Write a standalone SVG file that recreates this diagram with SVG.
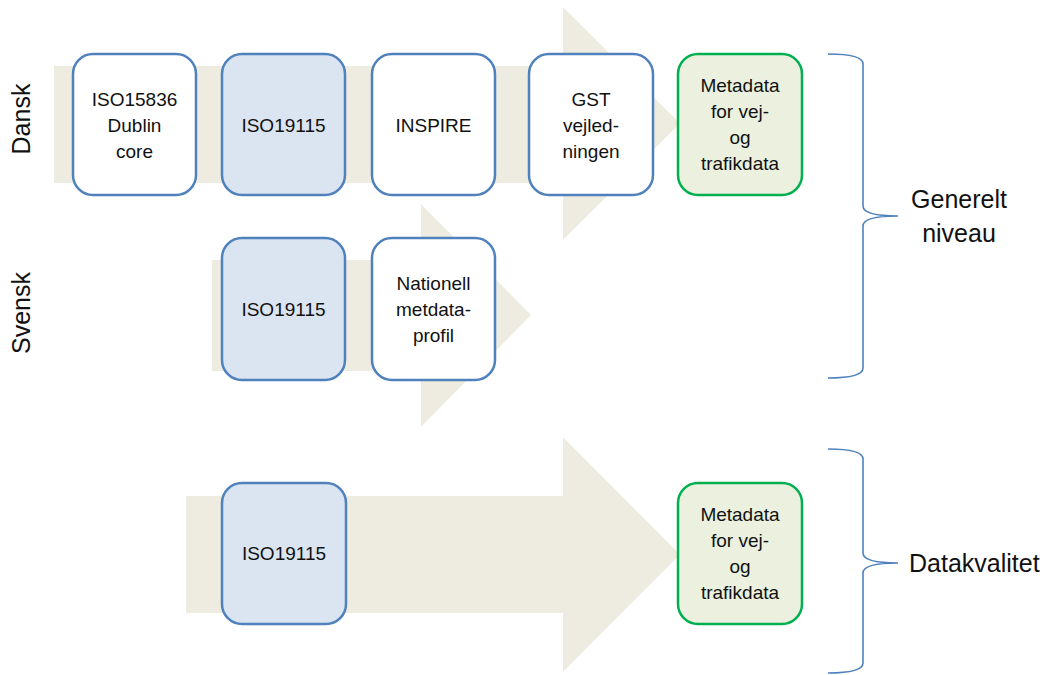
<svg xmlns="http://www.w3.org/2000/svg" width="1051" height="675" viewBox="0 0 1051 675">
<style>
.arrow{fill:#EEECE1;stroke:none}
.box{stroke:#4F81BD;stroke-width:2.5}
.white{fill:#FFFFFF}
.blue{fill:#DBE5F1}
.green{fill:#EBF1DE;stroke:#00B050;stroke-width:2.5}
.t{font-family:"Liberation Sans",Arial,sans-serif;font-size:19px;fill:#111;text-anchor:middle}
.lbl{font-family:"Liberation Sans",Arial,sans-serif;font-size:25px;fill:#111}
.brace{fill:none;stroke:#4F81BD;stroke-width:1.6}
</style>
<g id="arrows">
<polygon class="arrow" points="54,66 563,66 563,7 680,123.5 563,240 563,183 54,183"/>
<polygon class="arrow" points="212,260 421,260 421,204 531,315 421,427 421,371 212,371"/>
<polygon class="arrow" points="186,496 563,496 563,437 680,554.5 563,672 563,613 186,613"/>
</g>
<g id="labels">
<text class="lbl" transform="translate(30,119) rotate(-90)" text-anchor="middle">Dansk</text>
<text class="lbl" transform="translate(30,313) rotate(-90)" text-anchor="middle">Svensk</text>
<text class="lbl" x="959" y="208" text-anchor="middle">Generelt</text>
<text class="lbl" x="959" y="242" text-anchor="middle">niveau</text>
<text class="lbl" x="909" y="572">Datakvalitet</text>
</g>
<g id="connectors">
<path class="brace" d="M828,54 Q863,54 863,64 L863,206 Q863,216 898,216 Q863,216 863,226 L863,368 Q863,378 828,378"/>
<path class="brace" d="M828,449 Q863,449 863,459 L863,553 Q863,563 898,563 Q863,563 863,573 L863,663 Q863,673 828,673"/>
</g>
<g id="n1"><rect class="box white" x="73" y="54" width="123" height="141" rx="20"/>
<text class="t" x="134.5" y="106">ISO15836</text><text class="t" x="134.5" y="132">Dublin</text><text class="t" x="134.5" y="158">core</text></g>
<g id="n2"><rect class="box blue" x="222" y="54" width="123" height="141" rx="20"/>
<text class="t" x="283.5" y="132">ISO19115</text></g>
<g id="n3"><rect class="box white" x="372" y="54" width="123" height="141" rx="20"/>
<text class="t" x="433.5" y="132">INSPIRE</text></g>
<g id="n4"><rect class="box white" x="529" y="54" width="124" height="141" rx="20"/>
<text class="t" x="591" y="106">GST</text><text class="t" x="591" y="132">vejled-</text><text class="t" x="591" y="158">ningen</text></g>
<g id="n5"><rect class="green" x="678" y="54" width="124" height="141" rx="20"/>
<text class="t" x="740" y="92">Metadata</text><text class="t" x="740" y="118">for vej-</text><text class="t" x="740" y="144">og</text><text class="t" x="740" y="170">trafikdata</text></g>
<g id="n6"><rect class="box blue" x="222" y="238" width="123" height="142" rx="20"/>
<text class="t" x="283.5" y="316">ISO19115</text></g>
<g id="n7"><rect class="box white" x="372" y="238" width="123" height="142" rx="20"/>
<text class="t" x="433.5" y="290">Nationell</text><text class="t" x="433.5" y="316">metdata-</text><text class="t" x="433.5" y="342">profil</text></g>
<g id="n8"><rect class="box blue" x="222" y="483" width="124" height="141" rx="20"/>
<text class="t" x="284" y="560">ISO19115</text></g>
<g id="n9"><rect class="green" x="678" y="483" width="124" height="141" rx="20"/>
<text class="t" x="740" y="521">Metadata</text><text class="t" x="740" y="547">for vej-</text><text class="t" x="740" y="573">og</text><text class="t" x="740" y="599">trafikdata</text></g>
</svg>
